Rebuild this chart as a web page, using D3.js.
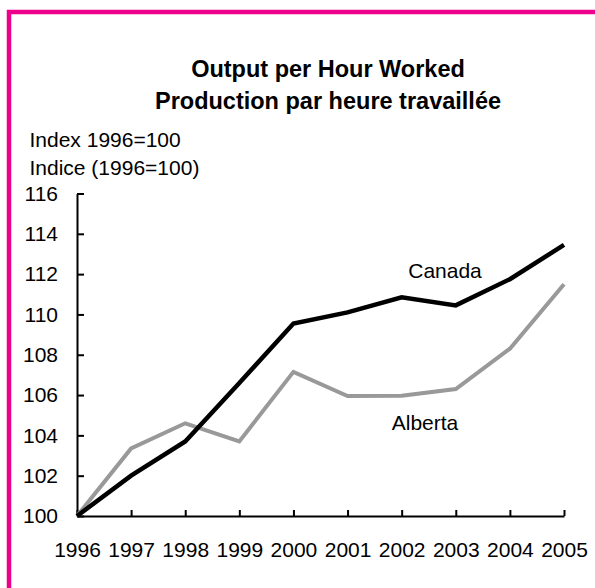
<!DOCTYPE html>
<html>
<head>
<meta charset="utf-8">
<script src="https://cdn.jsdelivr.net/npm/d3@7"></script>
<style>
  body { margin: 0; background: #fff; }
  svg { display: block; font-family: "Liberation Sans", Arial, Helvetica, sans-serif; }
</style>
</head>
<body>
<svg width="595" height="588"></svg>
<script>
// data
const years = [1996, 1997, 1998, 1999, 2000, 2001, 2002, 2003, 2004, 2005];
const canada = [100, 102.0, 103.7, 106.6, 109.55, 110.1, 110.85, 110.45, 111.75, 113.45];
const alberta = [100, 103.35, 104.6, 103.7, 107.15, 105.95, 105.97, 106.3, 108.3, 111.5];
const yTicks = [100, 102, 104, 106, 108, 110, 112, 114, 116];
const titleLines = ["Output per Hour Worked", "Production par heure travaillée"];
const unitLines = ["Index 1996=100", "Indice (1996=100)"];

const svg = d3.select("svg");
const pink = "#ec008c";

// frame (left + top)
svg.append("path")
  .attr("d", "M9,588 V12 H595")
  .attr("fill", "none")
  .attr("stroke", pink)
  .attr("stroke-width", 4.5);

var x = d3.scaleLinear().domain([1996, 2005]).range([77, 564]);
var y = d3.scaleLinear().domain([100, 116]).range([516, 193.5]);

// title
svg.append("g").selectAll("text")
  .data(titleLines)
  .enter().append("text")
  .attr("x", 328)
  .attr("y", (d, i) => 77 + i * 32)
  .attr("text-anchor", "middle")
  .style("font-size", "23.5px")
  .style("font-weight", "bold")
  .text(d => d);

svg.append("g").selectAll("text")
  .data(unitLines)
  .enter().append("text")
  .attr("x", 29.5)
  .attr("y", (d, i) => 147 + i * 28)
  .style("font-size", "21px")
  .text(d => d);

// axes
var yAxis = d3.axisLeft(y).tickValues(yTicks).tickSize(-7).tickSizeOuter(0).tickPadding(19);
var xAxis = d3.axisBottom(x).tickValues(years).tickFormat(d3.format("d")).tickSize(-6).tickSizeOuter(0).tickPadding(26);

var gy = svg.append("g").attr("transform", "translate(77,0)").call(yAxis);
var gx = svg.append("g").attr("transform", "translate(0,516)").call(xAxis);

[gy, gx].forEach(g => {
  g.select(".domain").attr("stroke", "#000").attr("stroke-width", 2);
  g.selectAll(".tick line").attr("stroke", "#000").attr("stroke-width", 2);
  g.selectAll(".tick text").attr("fill", "#000").style("font-size", "21px")
    .style("font-family", "'Liberation Sans', Arial, Helvetica, sans-serif");
});

// lines
var line = d3.line()
  .x((d, i) => x(years[i]))
  .y(d => y(d));

svg.append("path")
  .datum(alberta)
  .attr("d", line)
  .attr("fill", "none")
  .attr("stroke", "#999999")
  .attr("stroke-width", 4);

svg.append("path")
  .datum(canada)
  .attr("d", line)
  .attr("fill", "none")
  .attr("stroke", "#000")
  .attr("stroke-width", 4.5);

// series labels
svg.append("text")
  .attr("x", 445).attr("y", 278)
  .attr("text-anchor", "middle")
  .style("font-size", "21px")
  .text("Canada");

svg.append("text")
  .attr("x", 425).attr("y", 430)
  .attr("text-anchor", "middle")
  .style("font-size", "21px")
  .text("Alberta");
</script>
</body>
</html>
